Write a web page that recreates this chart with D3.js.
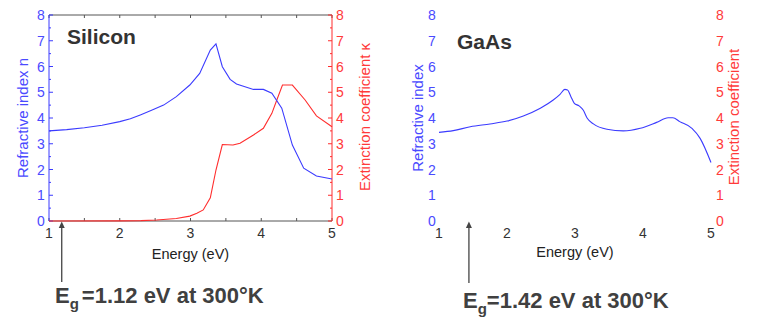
<!DOCTYPE html>
<html><head><meta charset="utf-8">
<script src="https://cdn.jsdelivr.net/npm/d3@7"></script>
<style>body{margin:0;background:#fff}svg{display:block}text{font-family:"Liberation Sans",Arial,sans-serif}</style>
</head><body><svg id="c" width="773" height="330"></svg>
<script>
// ---- data ----
const xTicks = [1, 2, 3, 4, 5];
const yTicks = [0, 1, 2, 3, 4, 5, 6, 7, 8];
const siE = [1, 1.25, 1.5, 1.75, 2, 2.15, 2.29, 2.45, 2.62, 2.8, 2.99, 3.13, 3.28, 3.36, 3.45, 3.56, 3.65, 3.89, 4.03, 4.15, 4.29, 4.44, 4.6, 4.78, 5];
const siN = [3.5, 3.55, 3.62, 3.72, 3.86, 3.97, 4.12, 4.3, 4.5, 4.83, 5.28, 5.73, 6.64, 6.88, 5.99, 5.5, 5.32, 5.11, 5.11, 4.96, 4.38, 2.95, 2.05, 1.75, 1.63];
const siKE = [1, 2.0, 2.3, 2.52, 2.8, 2.99, 3.09, 3.18, 3.28, 3.36, 3.45, 3.6, 3.7, 3.89, 4.03, 4.15, 4.22, 4.3, 4.44, 4.62, 4.78, 5];
const siK  = [0, 0.005, 0.015, 0.04, 0.1, 0.19, 0.3, 0.43, 0.9, 1.98, 2.97, 2.95, 3.02, 3.34, 3.6, 4.18, 4.7, 5.28, 5.28, 4.7, 4.08, 3.66];
const gaE = [1, 1.21, 1.46, 1.75, 2.0, 2.24, 2.49, 2.68, 2.78, 2.85, 2.89, 2.94, 2.99, 3.06, 3.12, 3.18, 3.27, 3.47, 3.71, 3.96, 4.2, 4.37, 4.44, 4.54, 4.72, 4.84, 5];
const gaN = [3.44, 3.51, 3.66, 3.77, 3.88, 4.08, 4.38, 4.7, 4.92, 5.11, 5.09, 4.83, 4.57, 4.47, 4.31, 3.99, 3.77, 3.56, 3.5, 3.6, 3.83, 4.01, 4.01, 3.86, 3.6, 3.21, 2.27];
const titles = ["Silicon", "GaAs"];
const leftLabels = ["Refractive index n", "Refractive index"];
const rightLabels = ["Extinction coefficient \u03ba", "Extinction coefficient"];
const xLabel = "Energy (eV)";
const gapE = [1.18, 1.44];
const gapText = ["=1.12 eV at 300\u00b0K", "=1.42 eV at 300\u00b0K"];

const BLUE = "#3b3bff", BLUET = "#4a4aff", RED = "#ff2d2d", REDT = "#ff3a3a", DARK = "#333", AX = "#555";
const svg = d3.select("#c");

function panel(o) {
  const x = d3.scaleLinear().domain([1, 5]).range([o.x0, o.x1]);
  const y = d3.scaleLinear().domain([0, 8]).range([221, 15]);
  const g = svg.append("g");
  const half = d3.range(1, 5.01, 0.5), halfY = d3.range(0, 8.01, 0.5);
  if (o.frame) {
    g.append("line").attr("x1", x(1)).attr("x2", x(5)).attr("y1", y(8)).attr("y2", y(8)).attr("stroke", AX);
    g.append("line").attr("x1", x(1)).attr("x2", x(5)).attr("y1", y(0)).attr("y2", y(0)).attr("stroke", AX);
    half.forEach(v => {
      g.append("line").attr("x1", x(v)).attr("x2", x(v)).attr("y1", y(0)).attr("y2", y(0) - 3).attr("stroke", AX);
      g.append("line").attr("x1", x(v)).attr("x2", x(v)).attr("y1", y(8)).attr("y2", y(8) + 3).attr("stroke", AX);
    });
    g.append("line").attr("x1", x(1)).attr("x2", x(1)).attr("y1", y(0)).attr("y2", y(8)).attr("stroke", BLUE);
    g.append("line").attr("x1", x(5)).attr("x2", x(5)).attr("y1", y(0)).attr("y2", y(8)).attr("stroke", RED);
    halfY.forEach(v => {
      const L = Number.isInteger(v) ? 4 : 2;
      g.append("line").attr("x1", x(1)).attr("x2", x(1) + L).attr("y1", y(v)).attr("y2", y(v)).attr("stroke", BLUE);
      g.append("line").attr("x1", x(5)).attr("x2", x(5) - L).attr("y1", y(v)).attr("y2", y(v)).attr("stroke", RED);
    });
  }
  // tick labels
  g.selectAll(".yl").data(yTicks).join("text").attr("x", o.lx).attr("y", d => y(d) + 5)
    .attr("text-anchor", "middle").attr("font-size", 14).attr("fill", BLUET).text(d => d);
  g.selectAll(".yr").data(yTicks).join("text").attr("x", o.rx).attr("y", d => y(d) + 5)
    .attr("text-anchor", "middle").attr("font-size", 14).attr("fill", REDT).text(d => d);
  g.selectAll(".xl").data(xTicks).join("text").attr("x", d => x(d)).attr("y", o.xly)
    .attr("text-anchor", "middle").attr("font-size", 14).attr("fill", DARK).text(d => d);
  g.append("text").attr("x", (x(1) + x(5)) / 2).attr("y", o.elY).attr("text-anchor", "middle")
    .attr("font-size", 14.5).attr("fill", "#222").text(xLabel);
  g.append("text").attr("transform", `translate(${o.ltx},118) rotate(-90)`).attr("text-anchor", "middle")
    .attr("font-size", 15).attr("fill", BLUET).text(o.leftLabel);
  g.append("text").attr("transform", `translate(${o.rtx},117) rotate(-90)`).attr("text-anchor", "middle")
    .attr("font-size", 15).attr("fill", REDT).text(o.rightLabel);
  g.append("text").attr("x", o.tx).attr("y", o.ty).attr("font-size", 21).attr("font-weight", "bold")
    .attr("fill", "#333").text(o.title);
  // lines
  const line = d3.line().x(d => x(d[0])).y(d => y(d[1])).curve(o.curve);
  if (o.k) g.append("path").datum(d3.zip(o.kE, o.k)).attr("d", line).attr("fill", "none").attr("stroke", RED).attr("stroke-width", 1.1);
  g.append("path").datum(d3.zip(o.nE, o.n)).attr("d", line).attr("fill", "none").attr("stroke", BLUE).attr("stroke-width", 1.1);
  // arrow
  const ax = x(o.gap);
  g.append("line").attr("x1", ax).attr("x2", ax).attr("y1", o.ab).attr("y2", 227).attr("stroke", "#444").attr("stroke-width", 1.3);
  g.append("path").attr("d", `M${ax},221.5L${ax - 3},228L${ax + 3},228Z`).attr("fill", "#444");
  const t = g.append("text").attr("x", o.gx).attr("y", o.gy).attr("font-size", 22).attr("font-weight", "bold").attr("fill", "#404040");
  t.append("tspan").text("E");
  t.append("tspan").attr("font-size", 15).attr("dy", 6).text("g");
  t.append("tspan").attr("dy", -6).attr("dx", o.gdx).text(o.gapText);
}

panel({x0: 49, x1: 332, frame: true, lx: 41, rx: 340, xly: 238, elY: 259, ltx: 27.5, rtx: 369.5,
  leftLabel: leftLabels[0], rightLabel: rightLabels[0], title: titles[0], tx: 67, ty: 44,
  nE: siE, n: siN, kE: siKE, k: siK, curve: d3.curveLinear, gap: gapE[0], ab: 282,
  gx: 55, gy: 303, gdx: 3, gapText: gapText[0]});
panel({x0: 439, x1: 711, frame: false, lx: 432, rx: 720, xly: 238, elY: 257, ltx: 422.5, rtx: 738.5,
  leftLabel: leftLabels[1], rightLabel: rightLabels[1], title: titles[1], tx: 457, ty: 49,
  nE: gaE, n: gaN, curve: d3.curveMonotoneX, gap: gapE[1], ab: 283,
  gx: 463, gy: 308, gdx: 0, gapText: gapText[1]});
</script></body></html>
